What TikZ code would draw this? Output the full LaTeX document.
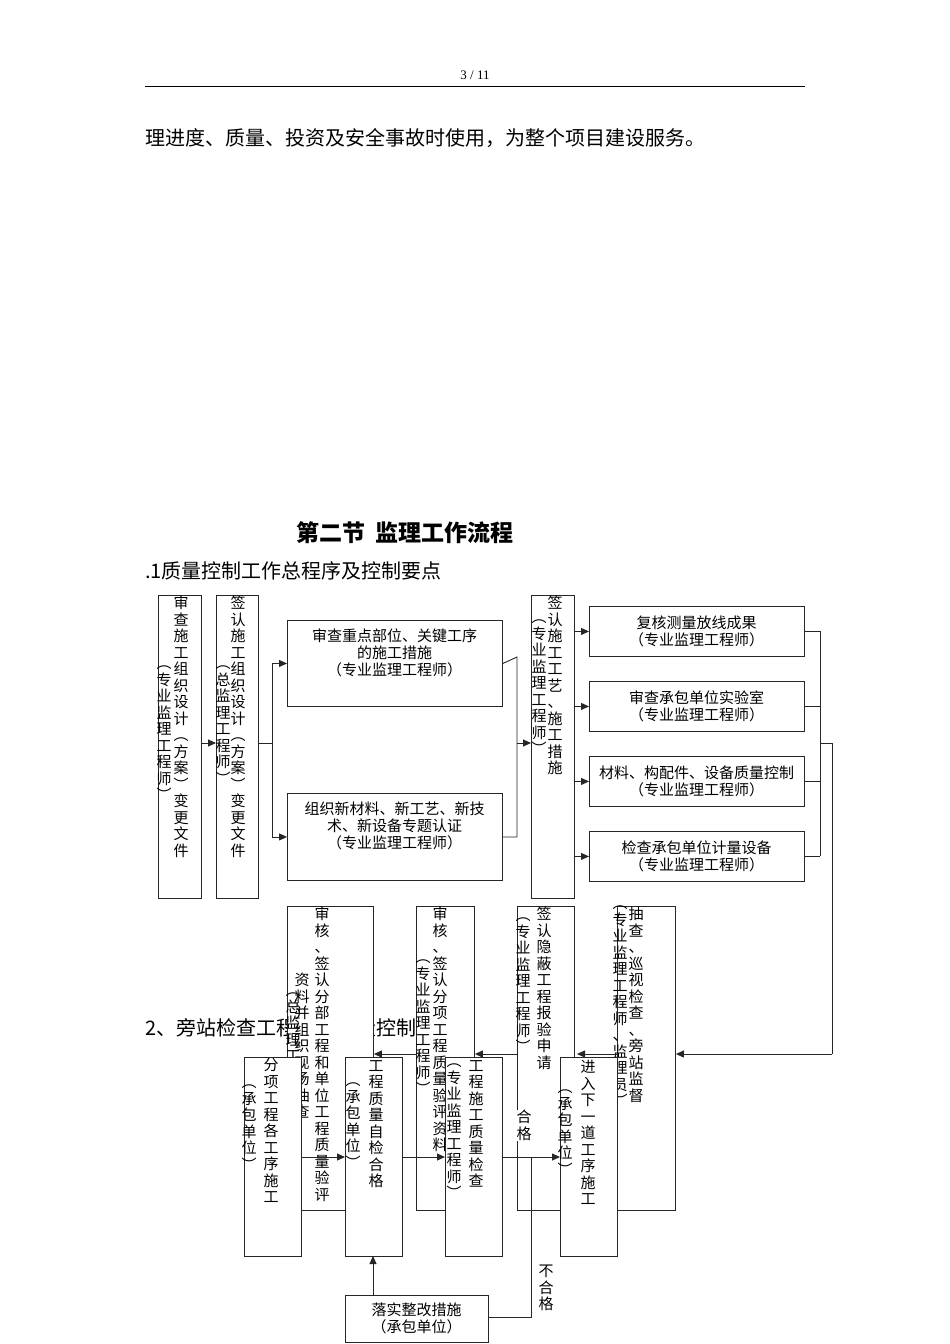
\documentclass[tikz,border=0pt]{standalone}
\usepackage{fontspec}
\setmainfont{Liberation Serif}
\newfontfamily\cjk{Noto Sans CJK SC}
\usetikzlibrary{arrows.meta}
\def\lpar{（}\def\rpar{）}
\def\vchar#1{\def\tmpc{#1}\ifx\tmpc\lpar ︵\else\ifx\tmpc\rpar ︶\else#1\fi\fi}
\def\vsloop#1{\ifx#1\relax\else\hbox to 1.1em{\hss\vchar{#1}\hss}\expandafter\vsloop\fi}
\newcommand\vtext[1]{\vbox{\baselineskip=16.5pt\lineskiplimit=-20pt\vsloop#1\relax}}
\tikzset{
 box/.style={draw=black!85,line width=0.9pt,fill=white,anchor=north west,inner sep=0pt},
 col/.style={anchor=north,inner sep=0pt,font=\cjk\fontsize{15}{16.5}\selectfont},
 ctext/.style={align=center,font=\cjk\fontsize{15}{17}\selectfont,inner sep=0pt},
 ln/.style={draw=black!85,line width=0.9pt},
 arr/.style={ln,-{Triangle[length=8pt,width=7pt]}},
}
\begin{document}
\begin{tikzpicture}[x=1pt,y=-1pt]
\useasboundingbox (0,0) rectangle (950,1344);
\node[font=\fontsize{13}{14}\selectfont] (pg) at (475,75) {3 / 11};
\draw[line width=1pt] (145,86) coordinate (h1) -- (805,86) coordinate (h2);
\node[anchor=west,font=\cjk\fontsize{20}{22}\selectfont,inner sep=0pt] (t1) at (145,138) {理进度、质量、投资及安全事故时使用，为整个项目建设服务。};
\node[font=\cjk\bfseries\fontsize{23}{25}\selectfont] (t2) at (405,533) {第二节\ \ 监理工作流程};
\node[anchor=west,font=\cjk\fontsize{20}{22}\selectfont,inner sep=0pt] (t3) at (145,571) {.1质量控制工作总程序及控制要点};
\node[anchor=west,font=\cjk\fontsize{20}{22}\selectfont,inner sep=0pt] (t4) at (145,1028) {2、旁站检查工程施工质量控制};

% top row
\node[box,minimum width=43,minimum height=303] (A) at (158,595) {};
\node[col] (Am) at (181,596) {\vtext{审查施工组织设计（方案）变更文件}};
\node[col] (As) at (164,666) {\vtext{（专业监理工程师）}};
\node[box,minimum width=42,minimum height=303] (B) at (216,595) {};
\node[col] (Bm) at (238,596) {\vtext{签认施工组织设计（方案）变更文件}};
\node[col] (Bs) at (223,666) {\vtext{（总监理工程师）}};
\node[box,minimum width=215,minimum height=86] (C) at (287,620) {};
\node[ctext] (Ct) at (394.5,653) {审查重点部位、关键工序\\的施工措施\\（专业监理工程师）};
\node[box,minimum width=215,minimum height=87] (D) at (287,793) {};
\node[ctext] (Dt) at (394.5,826) {组织新材料、新工艺、新技\\术、新设备专题认证\\（专业监理工程师）};
\node[box,minimum width=43,minimum height=303] (E) at (531,595) {};
\node[col] (Em) at (555,596) {\vtext{签认施工工艺、施工措施}};
\node[col] (Es) at (539,620) {\vtext{（专业监理工程师）}};
\foreach \n/\y/\t in {F1/606/复核测量放线成果,F2/681/审查承包单位实验室,F3/756/材料、构配件、设备质量控制,F4/831/检查承包单位计量设备}{
 \node[box,minimum width=215,minimum height=50] (\n) at (589,\y) {};
 \node[ctext] (\n t) at (696.5,\y+25) {\t\\（专业监理工程师）};
}
\draw[arr] (A.east|-0,743) -- (B.west|-0,743);
\draw[ln] (B.east|-0,743) -- (272,743) coordinate (s1);
\draw[arr] (s1|-C.west) -- (C.west);
\draw[arr] (s1|-D.west) -- (D.west);
\draw[ln] (s1|-C.west) -- (s1|-D.west);
\draw[ln] (C.east) -- (517,657) coordinate (s2) -- (s2|-D.east) -- (D.east);
\draw[arr] (517,743) -- (E.west|-0,743);
\foreach \n in {F1,F2,F3,F4}{
 \draw[arr] (E.east|-\n.west) -- (\n.west);
 \draw[ln] (\n.east) -- (820,0|-\n.east);
}
\draw[ln] (820,0|-F1.east) -- (820,0|-F4.east);

% bottom upper boxes
\node[box,minimum width=86,minimum height=304] (H) at (287,906) {};
\node[col] (Hm) at (322,907) {\vtext{审核、签认分部工程和单位工程质量验评}};
\node[col] (Hs) at (302,973) {\vtext{资料并组织现场抽查}};
\node[col] (Hs2) at (293,993) {\vtext{（总监理工程师）}};
\node[box,minimum width=58,minimum height=304] (I) at (416,906) {};
\node[col] (Im) at (440,907) {\vtext{审核、签认分项工程质量验评资料}};
\node[col] (Is) at (423,960) {\vtext{（专业监理工程师）}};
\node[box,minimum width=57,minimum height=304] (J) at (517,906) {};
\node[col] (Jm) at (544,907) {\vtext{签认隐蔽工程报验申请}};
\node[col] (Js) at (523,918) {\vtext{（专业监理工程师）}};
\node[col,fill=white] (Jh) at (524,1110) {\vtext{合格}};
\node[box,minimum width=58,minimum height=304] (K) at (617,906) {};
\node[col] (Km) at (636,907) {\vtext{抽查、巡视检查、旁站监督}};
\node[col] (Ks) at (620,906) {\vtext{（专业监理工程师、监理员）}};

% bottom lower boxes
\node[box,minimum width=57,minimum height=199] (L) at (244,1057) {};
\node[col] (Lm) at (271,1058) {\vtext{分项工程各工序施工}};
\node[col] (Ls) at (249,1085) {\vtext{（承包单位）}};
\node[box,minimum width=57,minimum height=199] (M) at (345,1057) {};
\node[col] (Mm) at (376,1060) {\vtext{工程质量自检合格}};
\node[col] (Ms) at (353,1083) {\vtext{（承包单位）}};
\node[box,minimum width=57,minimum height=199] (N) at (445,1057) {};
\node[col] (Nm) at (476,1060) {\vtext{工程施工质量检查}};
\node[col] (Ns) at (454,1064) {\vtext{（专业监理工程师）}};
\node[box,minimum width=57,minimum height=199] (O) at (560,1057) {};
\node[col] (Om) at (588,1060) {\vtext{进入下一道工序施工}};
\node[col] (Os) at (565,1090) {\vtext{（承包单位）}};
\node[box,minimum width=143,minimum height=47] (P) at (345,1295) {};
\node[ctext] (Pt) at (416.5,1318.5) {落实整改措施\\（承包单位）};

% connectors bottom
\draw[ln] (820,743) -- (832,743) coordinate (s3) -- (832,1054) coordinate (s4);
\draw[arr] (s4) -- (K.east|-s4);
\draw[arr] (K.west|-0,1054) -- (577,1054);
\draw[arr] (J.west|-0,1054) -- (I.east|-0,1054);
\draw[arr] (I.west|-0,1054) -- (H.east|-0,1054);
\draw[arr] (L.east|-0,1157) -- (M.west|-0,1157);
\draw[arr] (M.east|-0,1157) -- (N.west|-0,1157);
\draw[arr] (N.east|-0,1157) -- (O.west|-0,1157);
\draw[ln] (531,1157) coordinate (s5) -- (531,1317) -- (P.east|-0,1317);
\draw[arr] (P.north-|373,0) -- (373,1256);
\node[col] (bh) at (546,1265) {\vtext{不合格}};
\end{tikzpicture}
\end{document}
